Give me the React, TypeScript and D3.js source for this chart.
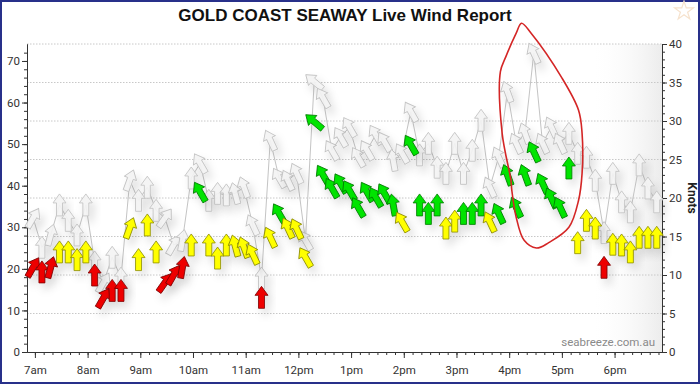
import React, { useEffect, useRef } from "react";
import * as d3 from "d3";

// readings every 10 minutes
const times = [
  "06:58",
  "07:08", "07:18", "07:28", "07:38", "07:48", "07:58",
  "08:08", "08:18", "08:28", "08:38", "08:48", "08:58",
  "09:08", "09:18", "09:28", "09:38", "09:48", "09:58",
  "10:08", "10:18", "10:28", "10:38", "10:48", "10:58",
  "11:08", "11:18", "11:28", "11:38", "11:48", "11:58",
  "12:08", "12:18", "12:28", "12:38", "12:48", "12:58",
  "13:08", "13:18", "13:28", "13:38", "13:48", "13:58",
  "14:08", "14:18", "14:28", "14:38", "14:48", "14:58",
  "15:08", "15:18", "15:28", "15:38", "15:48", "15:58",
  "16:08", "16:18", "16:28", "16:38", "16:48", "16:58",
  "17:08", "17:18", "17:28", "17:38", "17:48", "17:58",
  "18:08", "18:18", "18:28", "18:38", "18:48",
];

// average wind (knots)
const avgKnots = [
  11.0,
  10.4, 11.0, 13.0, 13.0, 12.0, 13.0,
  10.0, 7.0, 8.0, 8.0, 16.1, 12.0,
  16.5, 13.0, 9.0, 10.0, 11.0, 13.9,
  20.8, 13.9, 12.2, 13.9, 13.8, 13.6,
  12.7, 7.1, 14.9, 18.0, 16.1, 16.0,
  12.3, 29.9, 23.0, 21.3, 21.9, 21.0,
  18.8, 20.8, 20.1, 20.6, 19.1, 16.9,
  26.9, 19.1, 18.0, 19.1, 16.1, 17.0,
  18.0, 18.0, 19.1, 16.9, 18.0, 23.0,
  18.8, 23.0, 26.0, 21.9, 20.0, 18.8,
  23.9, 14.2, 17.1, 16.1, 11.0, 14.0,
  13.9, 13.0, 14.9, 14.9, 14.9,
];

// gusts (knots)
const gustKnots = [
  17.4,
  13.6, 15.2, 19.1, 17.1, 15.2, 19.1,
  11.7, 9.0, 12.3, 9.6, 22.3, 19.7,
  21.4, 18.4, 17.4, 13.9, 14.5, 22.6,
  24.5, 19.7, 20.6, 20.4, 20.6, 21.4,
  16.5, 9.6, 27.5, 22.6, 22.3, 23.2,
  14.5, 35.1, 33.0, 26.2, 27.9, 29.2,
  25.3, 26.2, 28.2, 27.3, 24.9, 25.8,
  31.2, 25.6, 27.1, 24.0, 23.2, 27.1,
  23.2, 26.2, 30.1, 21.4, 25.3, 33.8,
  27.1, 28.4, 38.8, 27.1, 29.2, 27.1,
  28.4, 25.8, 25.3, 22.3, 15.5, 23.2,
  19.5, 18.2, 24.3, 21.3, 19.5,
];

// heading the arrow points to (degrees, 0 = up)
const windDir = [
  30,
  0, 15, 0, 0, 0, 0,
  0, 30, 0, 0, 20, 0,
  0, 0, 35, 30, 10, 0,
  330, 0, 0, 0, 345, 340,
  335, 0, 335, 330, 335, 335,
  330, 310, 330, 330, 330, 330,
  330, 330, 330, 330, 350, 330,
  330, 0, 0, 0, 0, 0,
  0, 0, 0, 335, 335, 340,
  335, 340, 335, 335, 335, 335,
  0, 0, 0, 0, 0, 0,
  0, 0, 0, 0, 0,
];

const hourTicks = ["07:00", "08:00", "09:00", "10:00", "11:00", "12:00", "13:00", "14:00", "15:00", "16:00", "17:00", "18:00"];
const hourLabels = ["7am", "8am", "9am", "10am", "11am", "12pm", "1pm", "2pm", "3pm", "4pm", "5pm", "6pm"];
const kmhTicks = [0, 10, 20, 30, 40, 50, 60, 70];
const knotTicks = [0, 5, 10, 15, 20, 25, 30, 35, 40];

// hand drawn ring around the late afternoon gusts
const ringTimes = ["16:14", "16:25", "17:00", "17:19", "17:23", "17:23", "17:19", "17:08", "16:45", "16:31", "16:17", "16:08", "16:03", "16:02", "15:52", "15:50", "15:56", "16:08"];
const ringKnots = [42.7, 41.4, 35.6, 31.4, 28.4, 23.2, 19.7, 16.2, 14.2, 13.5, 14.5, 17.5, 21.0, 22.3, 28.4, 36.4, 38.3, 41.4];

const ARROW = "M0,-11L6.5,-2L3,-2L3,11L-3,11L-3,-2L-6.5,-2Z";
const FONT = "Roboto, 'Liberation Sans', Arial, sans-serif";

const colourFor = (k: number) => (k < 11.5 ? "#ee0000" : k < 17.5 ? "#ffff00" : "#00e400");
const strokeFor = (k: number) => (k < 11.5 ? "#7a0000" : k < 17.5 ? "#8a8a00" : "#087a08");

const App = () => {
  const ref = useRef<SVGSVGElement>(null);

  useEffect(() => {
    const svg = d3.select(ref.current);
    svg.selectAll("*").remove();

    const parse = d3.timeParse("%H:%M");
    const left = 27,
      right = 662,
      top = 44,
      bottom = 352;

    const x = d3.scaleTime().domain([parse("06:51")!, parse("18:54")!]).range([left, right]);
    const yKn = d3.scaleLinear().domain([0, 40]).range([bottom, top]);
    const yKmh = d3.scaleLinear().domain([0, 40 * 1.852]).range([bottom, top]);

    const defs = svg.append("defs");
    const f = defs.append("filter").attr("id", "sh").attr("x", "-60%").attr("y", "-60%").attr("width", "220%").attr("height", "220%");
    f.append("feDropShadow").attr("dx", 4).attr("dy", 6).attr("stdDeviation", 4).attr("flood-color", "#000").attr("flood-opacity", 0.14);
    const g1 = defs.append("linearGradient").attr("id", "fade").attr("x1", 0).attr("x2", 1).attr("y1", 0).attr("y2", 0);
    g1.append("stop").attr("offset", "0%").attr("stop-color", "#fff").attr("stop-opacity", 0);
    g1.append("stop").attr("offset", "100%").attr("stop-color", "#ececec").attr("stop-opacity", 1);

    // frame
    svg.append("rect").attr("x", 1).attr("y", 1).attr("width", 698).attr("height", 382)
      .attr("fill", "#fff").attr("stroke", "#28308a").attr("stroke-width", 2);

    svg.append("text").attr("x", 345).attr("y", 21).attr("text-anchor", "middle")
      .attr("font-family", "'Liberation Sans', Arial, sans-serif").attr("font-weight", "bold")
      .attr("font-size", 17).attr("fill", "#111").text("GOLD COAST SEAWAY Live Wind Report");

    // little star, top right
    svg.append("path").attr("transform", "translate(684,11)")
      .attr("d", d3.symbol(d3.symbolStar, 110)()!)
      .attr("fill", "none").attr("stroke", "#f6e2cd").attr("stroke-width", 1.2);

    svg.append("rect").attr("x", 590).attr("y", top).attr("width", right - 590).attr("height", bottom - top).attr("fill", "url(#fade)");

    // grid
    svg.append("g").selectAll("line").data(knotTicks.filter((d) => d > 0)).join("line")
      .attr("x1", left).attr("x2", right)
      .attr("y1", (d) => yKn(d)).attr("y2", (d) => yKn(d))
      .attr("stroke", "#c8c8c8").attr("stroke-dasharray", "1.5,1.5");

    svg.append("text").attr("x", 655).attr("y", 346).attr("text-anchor", "end")
      .attr("font-family", FONT).attr("font-size", 11.5).attr("fill", "#8a8a8a").text("seabreeze.com.au");

    // axes
    const styleAxis = (g: any) => {
      g.select(".domain").attr("stroke", "#333");
      g.selectAll(".tick line").attr("stroke", "#333");
      g.selectAll("text").attr("font-family", FONT).attr("font-size", 11.5).attr("fill", "#333");
    };

    svg.append("g").attr("transform", `translate(0,${bottom})`)
      .call(d3.axisBottom(x).ticks(d3.timeMinute.every(10)).tickSize(3).tickSizeOuter(0).tickFormat(() => ""))
      .call(styleAxis);
    svg.append("g").attr("transform", `translate(0,${bottom})`)
      .call(d3.axisBottom(x).tickValues(hourTicks.map((t) => parse(t)!)).tickSize(6).tickSizeOuter(0)
        .tickFormat((_, i) => hourLabels[i]))
      .call(styleAxis)
      .call((g) => g.selectAll("text").attr("dy", "1.1em"));

    svg.append("g").attr("transform", `translate(${left},0)`)
      .call(d3.axisLeft(yKmh).tickValues(d3.range(0, 74, 2)).tickSize(3).tickSizeOuter(0).tickFormat(() => ""))
      .call(styleAxis);
    svg.append("g").attr("transform", `translate(${left},0)`)
      .call(d3.axisLeft(yKmh).tickValues(kmhTicks).tickSize(5).tickSizeOuter(0).tickPadding(2))
      .call(styleAxis);

    svg.append("g").attr("transform", `translate(${right},0)`)
      .call(d3.axisRight(yKn).tickValues(d3.range(0, 41, 1)).tickSize(3).tickSizeOuter(0).tickFormat(() => ""))
      .call(styleAxis);
    svg.append("g").attr("transform", `translate(${right},0)`)
      .call(d3.axisRight(yKn).tickValues(knotTicks).tickSize(5).tickSizeOuter(0).tickPadding(2))
      .call(styleAxis);

    svg.append("text").attr("transform", "translate(688,198) rotate(90)").attr("text-anchor", "middle")
      .attr("font-family", FONT).attr("font-weight", "bold").attr("font-size", 12).attr("fill", "#222").text("Knots");

    const rows = times.map((t, i) => ({ t: parse(t)!, avg: avgKnots[i], gust: gustKnots[i], dir: windDir[i] }));

    // gust trace
    svg.append("path").datum(rows)
      .attr("d", d3.line<any>().x((d) => x(d.t)).y((d) => yKn(d.gust)))
      .attr("fill", "none").attr("stroke", "#c4c4c4").attr("stroke-width", 1);

    const gust = svg.append("g").selectAll("g").data(rows).join("g")
      .attr("transform", (d) => `translate(${x(d.t)},${yKn(d.gust)})`)
      .attr("filter", "url(#sh)");
    gust.append("path").attr("d", ARROW).attr("transform", (d) => `rotate(${d.dir})`)
      .attr("fill", "#f3f3f3").attr("fill-opacity", 0.92).attr("stroke", "#c4c4c4").attr("stroke-width", 0.9);

    const avg = svg.append("g").selectAll("g").data(rows).join("g")
      .attr("transform", (d) => `translate(${x(d.t)},${yKn(d.avg)})`)
      .attr("filter", "url(#sh)");
    avg.append("path").attr("d", ARROW).attr("transform", (d) => `rotate(${d.dir})`)
      .attr("fill", (d) => colourFor(d.avg)).attr("stroke", (d) => strokeFor(d.avg)).attr("stroke-width", 0.8);

    // red ring
    const ring = ringTimes.map((t, i) => [x(parse(t)!), yKn(ringKnots[i])] as [number, number]);
    svg.append("path").attr("d", d3.line().curve(d3.curveCatmullRomClosed)(ring)!)
      .attr("fill", "none").attr("stroke", "#d42626").attr("stroke-width", 1.6);
  }, []);

  return (
    <svg ref={ref} width={700} height={384} style={{ position: "absolute", left: 0, top: 0, display: "block" }}></svg>
  );
};

export default App;
